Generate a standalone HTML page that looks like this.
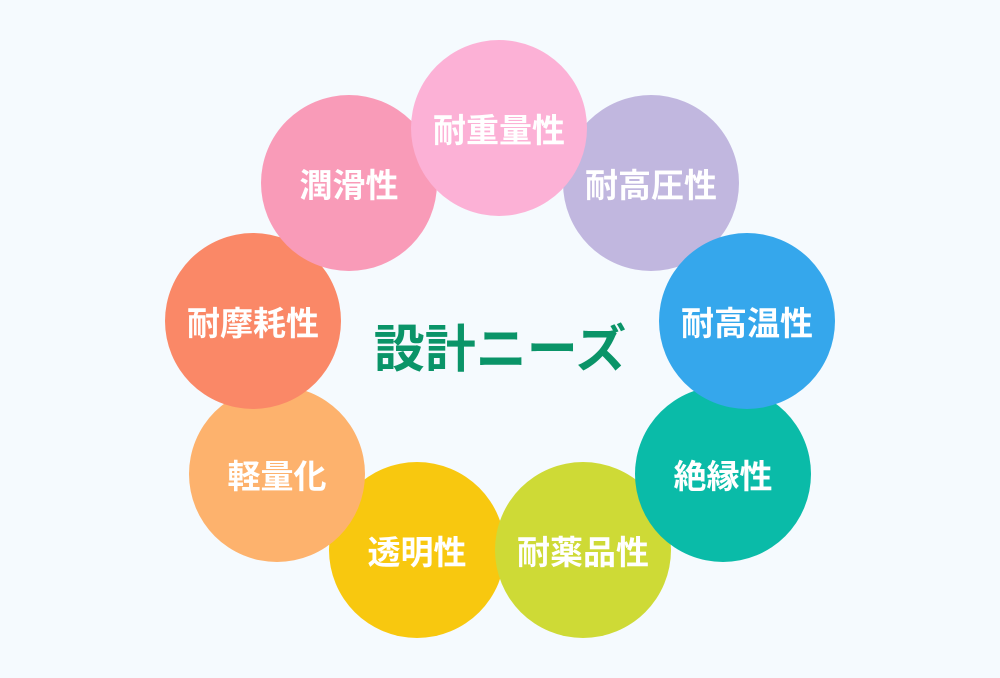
<!DOCTYPE html>
<html><head><meta charset="utf-8"><style>
html,body{margin:0;padding:0}
body{width:1000px;height:678px;background:#F5FAFE;position:relative;overflow:hidden;font-family:"Liberation Sans","Noto Sans CJK JP",sans-serif}
.c{position:absolute;width:176px;height:176px;border-radius:50%;display:flex;align-items:center;justify-content:center;color:#fff;font-weight:bold;font-size:33px;letter-spacing:0px}
.t{position:absolute;left:0;width:1000px;top:318px;text-align:center;color:#0A9468;font-weight:bold;font-size:51px;line-height:64px}
</style></head><body>
<div class="c" style="left:329px;top:462px;background:#F8C80F">透明性</div>
<div class="c" style="left:495px;top:462px;background:#CEDA36">耐薬品性</div>
<div class="c" style="left:189px;top:386px;background:#FDB26D">軽量化</div>
<div class="c" style="left:635px;top:386px;background:#0ABBA8">絶縁性</div>
<div class="c" style="left:563px;top:95px;background:#C1B7DF">耐高圧性</div>
<div class="c" style="left:659px;top:233px;background:#35A7EC">耐高温性</div>
<div class="c" style="left:165px;top:233px;background:#FA8867">耐摩耗性</div>
<div class="c" style="left:261px;top:95px;background:#F99BB8">潤滑性</div>
<div class="c" style="left:411px;top:40px;background:#FCB1D6">耐重量性</div>
<div class="t">設計ニーズ</div>
</body></html>
